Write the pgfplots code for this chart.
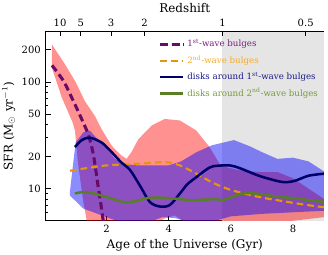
\documentclass[border=0pt]{standalone}
\usepackage{pgfplots}
\pgfplotsset{compat=1.18}
\usepackage{fontspec}
\setmainfont{DejaVu Serif}
\definecolor{bpurple}{RGB}{105,10,105}
\definecolor{tpurple}{RGB}{125,25,125}
\definecolor{borange}{RGB}{228,150,10}
\definecolor{torange}{RGB}{245,170,40}
\definecolor{dnavy}{RGB}{0,0,105}
\definecolor{tnavy}{RGB}{25,25,135}
\definecolor{dgreen}{RGB}{90,125,40}
\definecolor{tgreen}{RGB}{115,155,60}
\begin{document}
\begin{tikzpicture}
\path[use as bounding box] (-34.1pt,-25pt) rectangle (211.9pt,165.55pt);
\begin{axis}[at={(0,0)}, anchor=south west, scale only axis,
  width=208.9pt, height=142.3pt,
  xmin=0.03, xmax=9, ymin=5, ymax=300, ymode=log,
  axis x line*=bottom, axis y line*=left, axis line style={-},
  tick align=inside,
  xtick={2,4,6,8},
  ytick={10,20,50,100,200}, yticklabels={10,20,50,100,200},
  minor ytick={6,7,8,9,30,40,60,70,80,90,300},
  major tick length=3.8pt, minor tick length=2.2pt,
  tick style={black, line width=0.6pt},
  /pgf/number format/assume math mode=true,
  tick label style={font=\fontsize{7.5}{9}\selectfont},
  label style={font=\fontsize{9}{11}\selectfont},
  xlabel={Age of the Universe (Gyr)},
  ylabel={SFR (M$_\odot$ yr$^{-1}$)},
  xlabel style={yshift=2pt},
  ylabel style={yshift=-2pt},
  legend cell align=left,
  legend style={at={(0.392,0.985)}, anchor=north west, draw=none, fill=none,
    font=\fontsize{6.5}{8}\selectfont, row sep=1pt},
]
% grey z<1 region
\addplot[fill=gray!20, draw=none, forget plot] coordinates {(5.73,5)(9,5)(9,300)(5.73,300)} -- cycle;
% red band
\addplot[fill=red, fill opacity=0.43, draw=none, forget plot] coordinates {
(0.24,224)(0.66,146)(1.0,100)(1.30,66)(1.62,48)(1.84,36)(2.16,25.3)(2.48,20.4)(2.64,19)(2.8,22)(3.02,29)(3.45,39)(3.87,45)(4.36,43.5)(4.89,35)(5.32,24.4)(5.64,17)(5.8,16)(6.2,15)(6.6,14.5)(7.0,14.3)(7.5,14.3)(8.0,12.5)(8.5,10)(9.0,8)
(9.0,5.4)(8.0,5.0)(7.0,4.6)(6.0,4.3)(5.0,4.0)(4.5,4.9)(4.2,5.6)(3.9,5.3)(3.6,4.8)(3.0,4)(1.5,4)(1.36,5)(1.25,7.5)(1.07,18)(0.98,35)(0.9,42)(0.55,72)(0.24,135)} -- cycle;
% blue band
\addplot[fill=blue, fill opacity=0.45, draw=none, forget plot] coordinates {
(0.82,9.5)(1.0,27)(1.25,33.7)(1.46,35)(1.62,31)(1.95,25)(2.27,19)(2.6,17)(3.0,16.5)(3.6,16.5)(4.0,16.5)(4.4,18)(4.9,22)(5.4,25.5)(5.8,27.2)(6.1,28.5)(6.6,25)(7.0,22)(7.5,19)(8.0,19.5)(8.5,18)(9.0,14.5)
(9.0,6.2)(8.0,6.0)(7.0,5.8)(6.0,5.5)(5.5,5.0)(5.0,4.7)(4.6,4.9)(4.2,5.3)(3.8,5.4)(3.4,4.9)(3.0,4.6)(2.5,4.8)(2.0,5.4)(1.25,6.5)(0.82,8.6)} -- cycle;
% 1st-wave bulges
\addplot[bpurple, line width=2.3pt, dash pattern=on 5.5pt off 3pt, smooth] coordinates {
(0.24,143)(0.61,102)(0.93,66)(1.15,48)(1.36,35)(1.47,28)(1.57,21)(1.65,15)(1.73,10.3)(1.81,7.3)(1.89,5.0)(1.95,4)};
\addlegendentry{\textcolor{tpurple}{1\textsuperscript{st}-wave bulges}}
% 2nd-wave bulges
\addplot[borange, line width=1.6pt, dash pattern=on 5pt off 3pt, smooth] coordinates {
(0.82,14.7)(1.5,15.8)(2.0,16.5)(2.75,17)(3.3,17.3)(3.9,17.7)(4.36,16.5)(4.89,13.8)(5.43,11.3)(5.96,9.8)(6.5,8.9)(7.04,8.2)(7.6,7.7)(8.2,7.2)(8.8,6.8)(9.0,6.7)};
\addlegendentry{\textcolor{torange}{2\textsuperscript{nd}-wave bulges}}
% disks around 1st-wave
\addplot[dnavy, line width=1.9pt, smooth] coordinates {
(0.98,24.5)(1.2,28.5)(1.46,30)(1.84,27)(2.16,22)(2.48,17.5)(2.75,15)(3.07,10.7)(3.39,7.5)(3.71,6.8)(4.03,7.0)(4.36,9.0)(4.6,11)(4.89,12.8)(5.2,15)(5.43,16.2)(5.96,16.5)(6.3,15.5)(6.87,13.3)(7.3,12.2)(7.7,11.5)(8.05,11.8)(8.5,13.2)(9.0,13.8)};
\addlegendentry{\textcolor{tnavy}{disks around 1\textsuperscript{st}-wave bulges}}
% disks around 2nd-wave
\addplot[dgreen, line width=1.9pt, smooth] coordinates {
(0.98,9.0)(1.25,9.3)(1.5,9.1)(1.78,8.7)(2.2,8.0)(2.53,7.5)(2.8,7.5)(3.07,7.8)(3.39,8.2)(3.8,8.2)(4.14,8.1)(4.68,7.8)(5.2,7.9)(5.5,8.0)(5.75,7.8)(6.1,8.5)(6.5,9.1)(7.04,8.8)(7.5,8.4)(8.11,8.1)(8.5,7.8)(9.0,7.5)};
\addlegendentry{\textcolor{tgreen}{disks around 2\textsuperscript{nd}-wave bulges}}
\end{axis}
\begin{axis}[at={(0,0)}, anchor=south west, scale only axis,
  width=208.9pt, height=142.3pt,
  xmin=0.03, xmax=9, ymin=0, ymax=1,
  axis x line*=top, axis y line=none, axis line style={-},
  tick align=inside,
  xtick={0.50,1.17,2.14,3.22,5.73,8.41},
  xticklabels={10,5,3,2,1,0.5},
  major tick length=3.8pt,
  tick style={black, line width=0.6pt},
  tick label style={font=\fontsize{7.5}{9}\selectfont},
  label style={font=\fontsize{9}{11}\selectfont},
  xlabel={Redshift},
  xlabel style={yshift=-2pt},
]
\end{axis}
\end{tikzpicture}
\end{document}
